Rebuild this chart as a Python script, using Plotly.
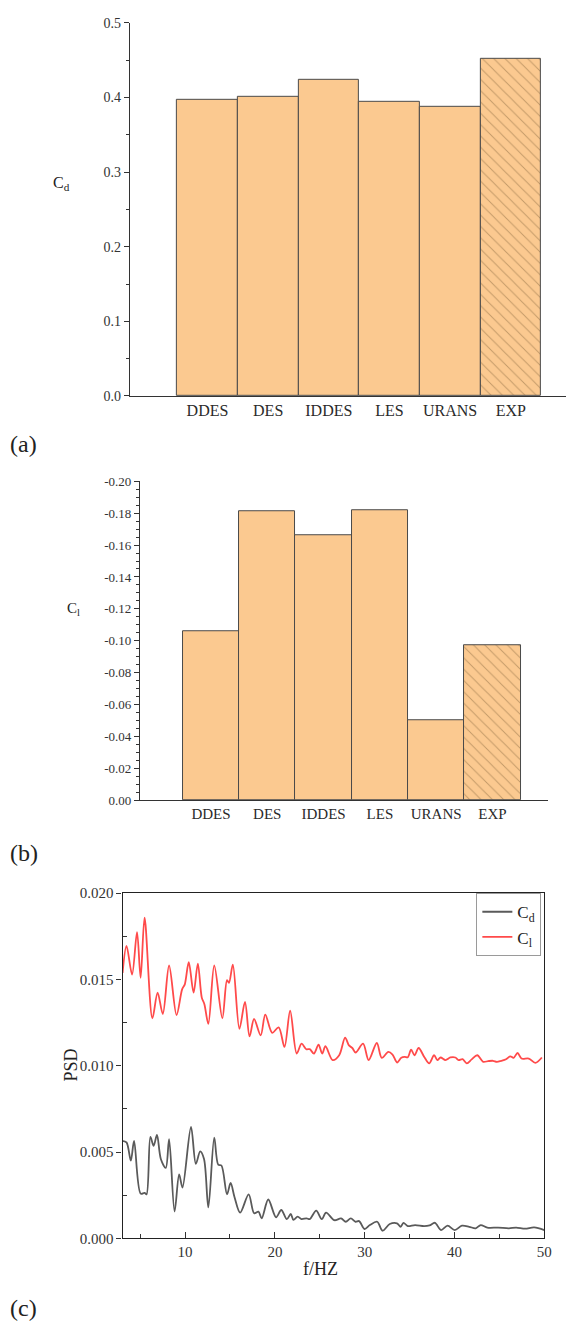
import plotly.graph_objects as go

# ---------------- data ----------------
methods = ["DDES", "DES", "IDDES", "LES", "URANS", "EXP"]
cd_values = [0.3965, 0.4013, 0.423, 0.394, 0.388, 0.452]
cl_values = [-0.106, -0.181, -0.166, -0.182, -0.050, -0.097]
hatch = ["", "", "", "", "", "\\"]

cd_ticks = [0.0, 0.1, 0.2, 0.3, 0.4, 0.5]
cd_ticktext = ["0.0", "0.1", "0.2", "0.3", "0.4", "0.5"]
cl_ticks = [0.0, -0.02, -0.04, -0.06, -0.08, -0.10, -0.12, -0.14, -0.16, -0.18, -0.20]
cl_ticktext = ["0.00", "-0.02", "-0.04", "-0.06", "-0.08", "-0.10", "-0.12",
               "-0.14", "-0.16", "-0.18", "-0.20"]

f_cl = [3.04, 3.48, 4.10, 4.65, 5.05, 5.49, 6.36, 6.94, 7.52, 8.22, 9.05, 9.67, 9.97,
        10.41, 10.95, 11.42, 11.86, 12.15, 12.59, 13.25, 14.15, 14.67, 14.89, 15.32,
        16.05, 16.67, 17.18, 17.68, 18.42, 18.93, 19.70, 20.42, 21.07, 21.70, 22.43,
        22.97, 23.50, 23.88, 24.35, 24.86, 25.27, 25.63, 26.43, 27.16, 27.82, 28.25,
        28.62, 28.99, 29.82, 30.44, 31.35, 31.90, 32.63, 33.10, 33.61, 34.08, 34.45,
        34.81, 35.17, 35.54, 36.01, 36.63, 37.18, 37.73, 38.09, 38.45, 39.00, 39.54,
        40.09, 40.46, 40.90, 41.37, 41.91, 42.54, 43.19, 43.74, 44.29, 44.72, 45.19,
        45.74, 46.21, 46.58, 47.02, 47.46, 48.27, 49.00, 49.73]
psd_cl = [0.01538, 0.01695, 0.01529, 0.01775, 0.01510, 0.01859, 0.01275, 0.01424,
          0.01300, 0.01581, 0.01294, 0.01443, 0.01472, 0.01600, 0.01424, 0.01592,
          0.01395, 0.01357, 0.01243, 0.01581, 0.01275, 0.01496, 0.01481, 0.01586,
          0.01214, 0.01370, 0.01170, 0.01271, 0.01176, 0.01296, 0.01191, 0.01223,
          0.01109, 0.01319, 0.01071, 0.01128, 0.01096, 0.01096, 0.01071, 0.01122,
          0.01071, 0.01113, 0.01033, 0.01061, 0.01163, 0.01118, 0.01103, 0.01077,
          0.01128, 0.01033, 0.01132, 0.01046, 0.01080, 0.01065, 0.01019, 0.01046,
          0.01051, 0.01050, 0.01094, 0.01061, 0.01103, 0.01051, 0.01014, 0.01061,
          0.01033, 0.01048, 0.01033, 0.01048, 0.01048, 0.01033, 0.01038, 0.01014,
          0.01037, 0.01061, 0.01023, 0.01027, 0.01029, 0.01023, 0.01029, 0.01038,
          0.01055, 0.01046, 0.01074, 0.01042, 0.01042, 0.01017, 0.01048]

f_cd = [3.00, 3.48, 3.96, 4.32, 5.05, 5.49, 5.71, 6.14, 6.50, 6.87, 7.30, 7.85, 8.22,
        8.83, 9.34, 9.71, 10.66, 11.20, 11.68, 12.11, 12.59, 13.25, 13.69, 14.05,
        14.67, 15.07, 15.50, 16.13, 17.08, 17.69, 18.17, 18.53, 19.26, 20.13, 20.71,
        21.33, 21.77, 22.06, 22.54, 22.97, 23.52, 23.88, 24.60, 25.22, 25.70, 26.61,
        27.37, 27.89, 28.45, 28.98, 29.38, 29.98, 30.58, 31.39, 31.99, 32.79, 33.60,
        34.00, 34.32, 34.80, 35.61, 36.61, 37.22, 37.82, 38.50, 39.23, 40.03, 40.83,
        41.64, 42.36, 42.92, 43.65, 44.85, 46.06, 46.86, 47.87, 48.87, 50.00]
psd_cd = [0.00565, 0.00556, 0.00450, 0.00565, 0.00259, 0.00263, 0.00255, 0.00588,
          0.00536, 0.00599, 0.00460, 0.00408, 0.00574, 0.00155, 0.00370, 0.00294,
          0.00645, 0.00431, 0.00504, 0.00460, 0.00179, 0.00584, 0.00427, 0.00422,
          0.00255, 0.00321, 0.00240, 0.00149, 0.00255, 0.00145, 0.00155, 0.00116,
          0.00225, 0.00122, 0.00164, 0.00111, 0.00141, 0.00107, 0.00126, 0.00111,
          0.00116, 0.00111, 0.00160, 0.00111, 0.00149, 0.00105, 0.00115, 0.00096,
          0.00115, 0.00096, 0.00100, 0.00054, 0.00077, 0.00096, 0.00044, 0.00083,
          0.00087, 0.00067, 0.00090, 0.00071, 0.00077, 0.00071, 0.00075, 0.00090,
          0.00048, 0.00073, 0.00048, 0.00073, 0.00067, 0.00058, 0.00077, 0.00062,
          0.00062, 0.00058, 0.00062, 0.00056, 0.00063, 0.00048]

# ---------------- style ----------------
W, H = 574, 1330
SERIF = "Liberation Serif, Times New Roman, serif"
BAR_FILL = "#fbc990"
BAR_EDGE = "#4a4a4a"
AX = "#333333"


def px_x(p):
    return p / W


def px_y(p):
    return 1 - p / H


fig = go.Figure()

fig.add_trace(go.Bar(
    x=methods, y=cd_values, width=1.0, xaxis="x", yaxis="y",
    marker=dict(color=BAR_FILL, line=dict(color=BAR_EDGE, width=1),
                pattern=dict(shape=hatch, fgcolor="#8a6a40", bgcolor=BAR_FILL,
                             size=8, solidity=0.12, fillmode="overlay")),
    showlegend=False,
))
fig.add_trace(go.Bar(
    x=methods, y=cl_values, width=1.0, xaxis="x2", yaxis="y2",
    marker=dict(color=BAR_FILL, line=dict(color=BAR_EDGE, width=1),
                pattern=dict(shape=hatch, fgcolor="#8a6a40", bgcolor=BAR_FILL,
                             size=8, solidity=0.12, fillmode="overlay")),
    showlegend=False,
))
fig.add_trace(go.Scatter(
    x=f_cd, y=psd_cd, mode="lines", name="C<sub>d</sub>", xaxis="x3", yaxis="y3",
    line=dict(color="#5a5a5a", width=1.8, shape="spline", smoothing=0.9),
))
fig.add_trace(go.Scatter(
    x=f_cl, y=psd_cl, mode="lines", name="C<sub>l</sub>", xaxis="x3", yaxis="y3",
    line=dict(color="#ff4a4a", width=1.8, shape="spline", smoothing=0.9),
))

tick_font = dict(family=SERIF, size=14, color=AX)
cat_font = dict(family=SERIF, size=16, color="#2a2a2a")

fig.update_layout(
    width=W, height=H, autosize=False,
    margin=dict(l=0, r=0, t=0, b=0, pad=0),
    paper_bgcolor="white", plot_bgcolor="white",
    font=dict(family=SERIF, color="#222222"),
    bargap=0,
    # panel (a)
    xaxis=dict(domain=[px_x(131.7), 1.0], anchor="y", type="category",
               range=[-1.28, 5.91], showline=True, linecolor=AX, linewidth=1.2,
               ticks="", showgrid=False, zeroline=False, tickfont=cat_font),
    yaxis=dict(domain=[px_y(392.7), px_y(15)], anchor="x", range=[0, 0.5],
               tickmode="array", tickvals=cd_ticks, ticktext=cd_ticktext,
               ticks="outside", ticklen=5, tickcolor=AX, tickwidth=1.2,
               minor=dict(tickmode="linear", tick0=0, dtick=0.05, ticks="outside",
                          ticklen=3, tickcolor=AX, showgrid=False),
               showline=True, linecolor=AX, linewidth=1.2, showgrid=False,
               zeroline=False, tickfont=tick_font),
    # panel (b)
    xaxis2=dict(domain=[px_x(142), px_x(556)], anchor="y2", type="category",
                range=[-1.26, 5.99], showline=True, linecolor=AX, linewidth=1.2,
                ticks="", showgrid=False, zeroline=False,
                tickfont=dict(family=SERIF, size=15, color="#2a2a2a")),
    yaxis2=dict(domain=[px_y(802), px_y(479)], anchor="x2", range=[0, -0.2],
                tickmode="array", tickvals=cl_ticks, ticktext=cl_ticktext,
                ticks="outside", ticklen=5, tickcolor=AX, tickwidth=1.2,
                minor=dict(tickmode="linear", tick0=0, dtick=0.005, ticks="outside",
                           ticklen=3, tickcolor=AX, showgrid=False),
                showline=True, linecolor=AX, linewidth=1.2, showgrid=False,
                zeroline=False, tickfont=dict(family=SERIF, size=13, color=AX)),
    # panel (c)
    xaxis3=dict(domain=[px_x(124.3), px_x(552)], anchor="y3", range=[3.04, 50],
                tickmode="linear", tick0=0, dtick=10,
                ticks="inside", ticklen=6, tickcolor=AX, tickwidth=1.2,
                minor=dict(tickmode="linear", tick0=5, dtick=10, ticks="inside",
                           ticklen=4, tickcolor=AX, showgrid=False),
                showline=True, mirror=True, linecolor="#222222", linewidth=1.3,
                showgrid=False, zeroline=False,
                tickfont=dict(family=SERIF, size=15, color=AX)),
    yaxis3=dict(domain=[px_y(1245.3), px_y(896)], anchor="x3", range=[0, 0.02],
                tickmode="linear", tick0=0, dtick=0.005, tickformat=".3f",
                ticks="outside", ticklen=5, tickcolor=AX, tickwidth=1.2,
                minor=dict(tickmode="linear", tick0=0.0025, dtick=0.005,
                           ticks="inside", ticklen=4, tickcolor=AX, showgrid=False),
                showline=True, mirror=True, linecolor="#222222", linewidth=1.3,
                showgrid=False, zeroline=False,
                tickfont=dict(family=SERIF, size=15, color=AX)),
    legend=dict(x=px_x(549), xanchor="right", y=px_y(896), yanchor="top",
                bgcolor="white", bordercolor="#9a9a9a", borderwidth=1,
                font=dict(family=SERIF, size=17, color="#222222"),
                itemwidth=30, tracegroupgap=0),
)

annotations = [
    dict(text="C<sub>d</sub>", x=px_x(62), y=px_y(178), font=dict(size=16)),
    dict(text="C<sub>l</sub>", x=px_x(75), y=px_y(608), font=dict(size=15)),
    dict(text="PSD", x=px_x(72.5), y=px_y(1070), textangle=-90, font=dict(size=18)),
    dict(text="f/HZ", x=px_x(325), y=px_y(1276), font=dict(size=18)),
    dict(text="(a)", x=px_x(8), y=px_y(441.7), xanchor="left", font=dict(size=24)),
    dict(text="(b)", x=px_x(8), y=px_y(855), xanchor="left", font=dict(size=24)),
    dict(text="(c)", x=px_x(8), y=px_y(1316), xanchor="left", font=dict(size=24)),
]
for a in annotations:
    a.setdefault("xanchor", "center")
    a["xref"] = "paper"
    a["yref"] = "paper"
    a["yanchor"] = "middle"
    a["showarrow"] = False
    a["font"] = dict(family=SERIF, color="#222222", **a["font"])
fig.update_layout(annotations=annotations)

fig.write_html(
    "out.html",
    config={"displayModeBar": False, "responsive": False},
    post_script="document.body.style.margin='0';document.body.style.padding='0';"
                "document.documentElement.style.overflow='hidden';",
)
